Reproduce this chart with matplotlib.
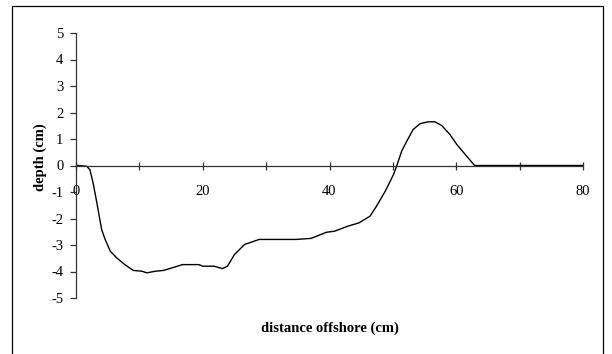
import matplotlib
matplotlib.use("Agg")
import matplotlib.pyplot as plt
from matplotlib.patches import Rectangle

# Beach profile: distance offshore (cm) vs depth (cm)
distance = [0.0, 0.4, 1.7, 2.2, 2.7, 3.3, 4.05, 4.6, 5.4, 6.4, 7.7, 9.05, 10.4,
            11.2, 12.5, 13.8, 15.2, 16.8, 19.4, 20.0, 21.8, 23.1, 23.9, 25.0,
            26.6, 28.9, 32.1, 34.7, 37.1, 39.5, 40.8, 42.9, 44.7, 46.4, 47.4,
            48.8, 50.1, 50.6, 51.4, 52.2, 53.2, 54.3, 55.6, 56.6, 57.7, 59.0,
            60.1, 61.4, 62.9, 80.0]
depth = [0.0, 0.0, -0.03, -0.16, -0.66, -1.42, -2.42, -2.79, -3.23, -3.48,
         -3.74, -3.96, -3.99, -4.05, -3.99, -3.96, -3.86, -3.74, -3.74, -3.8,
         -3.8, -3.89, -3.8, -3.36, -2.98, -2.79, -2.79, -2.79, -2.75, -2.52,
         -2.48, -2.29, -2.16, -1.91, -1.54, -0.97, -0.34, -0.02, 0.55, 0.92,
         1.36, 1.58, 1.65, 1.65, 1.51, 1.17, 0.79, 0.42, 0.0, 0.0]

x_ticks = [0, 10, 20, 30, 40, 50, 60, 70, 80]
x_labels = ["0", "", "20", "", "40", "", "60", "", "80"]
y_ticks = [-5, -4, -3, -2, -1, 0, 1, 2, 3, 4, 5]

plt.rcParams["font.family"] = ["Liberation Serif", "DejaVu Serif"]

fig = plt.figure(figsize=(6.12, 3.54), dpi=100)
ax = fig.add_axes([76 / 612, 1 - 298 / 354, 507 / 612, 265 / 354])

ax.plot(distance, depth, color="black", lw=1.0)

ax.set_xlim(0, 80)
ax.set_ylim(-5, 5)

for side in ("top", "right"):
    ax.spines[side].set_visible(False)
ax.spines["bottom"].set_position(("data", 0))
ax.spines["left"].set_position(("data", 0))
for side in ("bottom", "left"):
    ax.spines[side].set_color("#333333")
    ax.spines[side].set_linewidth(0.9)

ax.set_xticks(x_ticks)
ax.set_xticklabels(x_labels)
ax.set_yticks(y_ticks)
ax.set_yticklabels([str(v) for v in y_ticks])
ax.tick_params(axis="x", direction="inout", length=6, width=0.9, color="#333333",
               labelsize=10.5, pad=11)
ax.tick_params(axis="y", direction="out", length=4, width=0.9, color="#333333",
               labelsize=10.5, pad=5)

fig.text(40 / 612, 1 - 157 / 354, "depth (cm)", rotation=90, ha="center",
         va="center", fontsize=10.5, fontweight="bold")
fig.text(330 / 612, 1 - 328 / 354, "distance offshore (cm)", ha="center",
         va="center", fontsize=10.5, fontweight="bold")

# Outer chart frame
fig.patches.append(Rectangle((11.5 / 612, -0.1), (603 - 11.5) / 612,
                             1.1 - 5.5 / 354, transform=fig.transFigure,
                             fill=False, edgecolor="black", lw=0.9))

fig.savefig("out.png", dpi=100)
